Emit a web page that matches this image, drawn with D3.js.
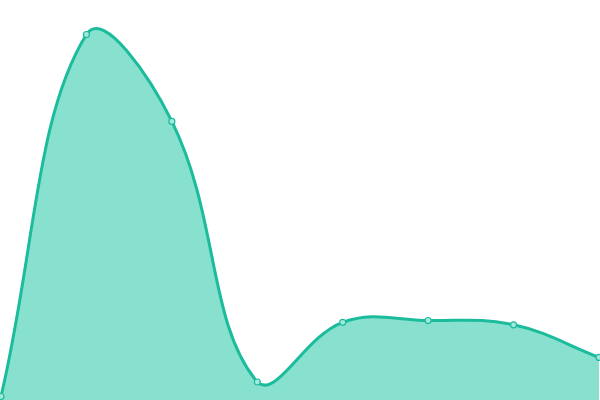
<!DOCTYPE html>
<html>
<head>
<meta charset="utf-8">
<script src="https://cdn.jsdelivr.net/npm/d3@7"></script>
<style>
  html, body { margin: 0; padding: 0; background: #fff; }
  svg { display: block; }
</style>
</head>
<body>
<div class="chart"></div>
<script>
// one series, eight samples
var categories = ["1", "2", "3", "4", "5", "6", "7", "8"];
var values = [0, 10, 7.6, 0.4, 2.05, 2.1, 1.98, 1.08];

var w = 600, h = 400;
var tension = 0.4;

var svg = d3.select(".chart")
            .append("svg")
            .attr("width", w)
            .attr("height", h);

var x = d3.scalePoint()
          .domain(categories)
          .range([1, 599]);

var y = d3.scaleLinear()
          .domain([0, 10])
          .range([396.5, 34.5]);

var pts = values.map(function(d, i) {
	return {x: x(categories[i]), y: y(d)};
});

// distance weighted spline control points, clamped to the drawing area
function clamp(v, lo, hi) { return Math.max(lo, Math.min(hi, v)); }

pts.forEach(function(p, i) {
	var prev = pts[i - 1] || p, next = pts[i + 1] || p;
	var d01 = Math.hypot(p.x - prev.x, p.y - prev.y);
	var d12 = Math.hypot(next.x - p.x, next.y - p.y);
	var s01 = d01 / (d01 + d12 || 1), s12 = d12 / (d01 + d12 || 1);
	var fa = tension * s01, fb = tension * s12;
	p.cpIn = {x: clamp(p.x - fa * (next.x - prev.x), 0, w), y: clamp(p.y - fa * (next.y - prev.y), 0, h)};
	p.cpOut = {x: clamp(p.x + fb * (next.x - prev.x), 0, w), y: clamp(p.y + fb * (next.y - prev.y), 0, h)};
});

function spline(ctx) {
	ctx.moveTo(pts[0].x, pts[0].y);
	for (var i = 1; i < pts.length; i++) {
		var a = pts[i - 1], b = pts[i];
		ctx.bezierCurveTo(a.cpOut.x, a.cpOut.y, b.cpIn.x, b.cpIn.y, b.x, b.y);
	}
	return ctx;
}

var areaPath = spline(d3.path());
areaPath.lineTo(pts[pts.length - 1].x, h);
areaPath.lineTo(pts[0].x, h);
areaPath.closePath();

svg.append("path")
   .attr("d", areaPath.toString())
   .style("fill", "#88e0cf");

svg.append("path")
   .attr("d", spline(d3.path()).toString())
   .style("fill", "none")
   .style("stroke", "#1abc9c")
   .style("stroke-width", 3);

svg.selectAll("circle")
   .data(pts)
   .enter()
   .append("circle")
   .attr("cx", function(d) { return d.x; })
   .attr("cy", function(d) { return d.y; })
   .attr("r", 3)
   .style("fill", "#a3e8da")
   .style("stroke", "#1abc9c")
   .style("stroke-width", 1.2);
</script>
</body>
</html>
